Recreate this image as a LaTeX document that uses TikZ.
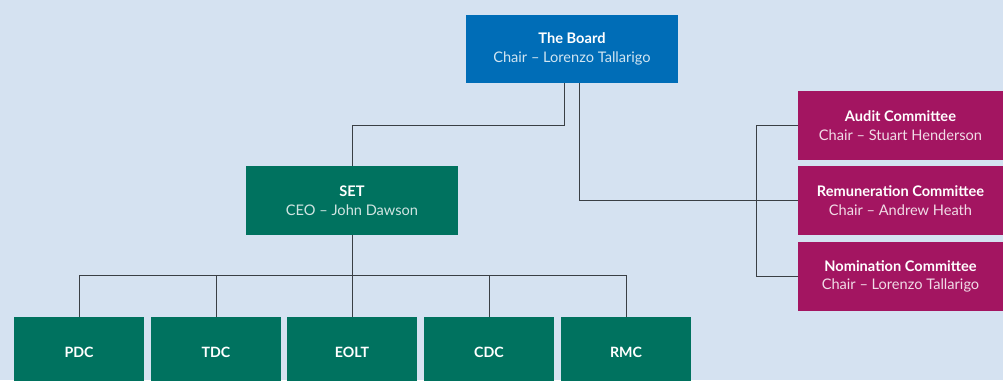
\documentclass[tikz,border=0pt]{standalone}
\usepackage{fontspec}
\setmainfont{Lato}
\usetikzlibrary{calc}
\definecolor{bgc}{HTML}{D5E2F1}
\definecolor{boardc}{HTML}{006DB7}
\definecolor{greenc}{HTML}{00725F}
\definecolor{magc}{HTML}{A31561}
\definecolor{linec}{HTML}{3A3F45}
\tikzset{
  box/.style={draw=none, minimum width=212pt, minimum height=68pt, inner sep=0pt, align=center, text=white, font=\fontsize{14.6}{18.5}\selectfont},
  bluebox/.style={box, fill=boardc},
  greenbox/.style={box, fill=greenc},
  smallbox/.style={box, fill=greenc, minimum width=130pt, minimum height=70pt, font=\fontsize{14.2}{18}\selectfont\bfseries},
  magbox/.style={box, fill=magc, minimum width=205pt, minimum height=69pt},
  conn/.style={draw=linec, line width=0.8pt},
}
\newcommand{\sublineB}[1]{{\color{boardc!18!white}#1}}
\newcommand{\sublineG}[1]{{\color{greenc!18!white}#1}}
\newcommand{\sublineM}[1]{{\color{magc!15!white}#1}}
\begin{document}
\begin{tikzpicture}[x=1pt,y=-1pt]
\clip (0,0) rectangle (1003,380);
\fill[bgc] (0,0) rectangle (1003,380);
\useasboundingbox (0,0) rectangle (1003,380);
\node[bluebox] (board) at (572,49) {\textbf{The Board}\\\sublineB{Chair -- Lorenzo Tallarigo}};
\node[greenbox, minimum height=69pt] (set) at (352,200.5) {\textbf{SET}\\\sublineG{CEO -- John Dawson}};
\node[magbox] (aud) at (900.5,125.5) {\textbf{Audit Committee}\\\sublineM{Chair -- Stuart Henderson}};
\node[magbox] (rem) at (900.5,200.5) {\textbf{Remuneration Committee}\\\sublineM{Chair -- Andrew Heath}};
\node[magbox] (nom) at (900.5,276.5) {\textbf{Nomination Committee}\\\sublineM{Chair -- Lorenzo Tallarigo}};
\node[smallbox] (pdc) at (79,352) {PDC};
\node[smallbox] (tdc) at (216,352) {TDC};
\node[smallbox] (eolt) at (352,352) {EOLT};
\node[smallbox] (cdc) at (489,352) {CDC};
\node[smallbox] (rmc) at (626,352) {RMC};
\coordinate (b1) at ($(board.south)+(-8,0)$);
\coordinate (b2) at ($(board.south)+(7,0)$);
\draw[conn] (b1) -- ++(0,42) -| (set.north);
\draw[conn] (b2) |- (rem.west);
\draw[conn] (aud.west) -- ++(-41,0) |- (nom.west);
\draw[conn] (set.south) -- (eolt.north);
\draw[conn] (pdc.north) -- ++(0,-41) -| (rmc.north);
\draw[conn] (tdc.north) -- ++(0,-41);
\draw[conn] (cdc.north) -- ++(0,-41);
\end{tikzpicture}
\end{document}
